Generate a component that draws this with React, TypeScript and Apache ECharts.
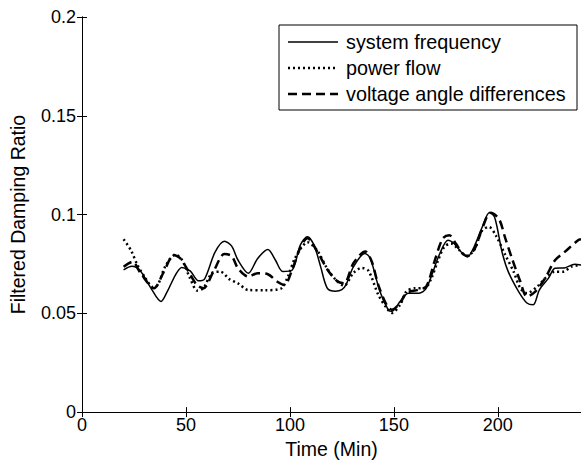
import React, { useEffect, useRef } from "react";
import * as echarts from "echarts";

const freqTime = [20, 24, 28, 33, 38, 41, 45, 48, 52, 56, 59, 64, 68.5, 72, 75, 80, 84.5, 89.4, 93, 96.5, 101, 105, 108.4, 111.6, 114.8, 118, 122, 125, 127, 130.6, 136, 138.6, 143.3, 147.3, 149, 153, 157, 162, 165.6, 172, 176, 179, 183, 185.4, 188.6, 192.5, 196, 198.5, 202, 205, 210, 214, 217, 220, 224.3, 227.5, 232, 237, 240];
const freqValues = [0.072, 0.0738, 0.0715, 0.063, 0.056, 0.061, 0.0695, 0.0732, 0.0715, 0.0665, 0.0675, 0.081, 0.0865, 0.084, 0.077, 0.0703, 0.0778, 0.0823, 0.077, 0.0712, 0.0718, 0.0845, 0.0888, 0.0845, 0.0735, 0.0627, 0.0612, 0.062, 0.0645, 0.0736, 0.0803, 0.078, 0.061, 0.0518, 0.051, 0.056, 0.0602, 0.0602, 0.0627, 0.08, 0.087, 0.0853, 0.0803, 0.0786, 0.0837, 0.0937, 0.101, 0.0985, 0.0811, 0.0711, 0.061, 0.0552, 0.0543, 0.0619, 0.0677, 0.0728, 0.073, 0.0748, 0.0745];

const flowTime = [20, 23.5, 26.7, 30.6, 34.2, 36.5, 40, 45, 48, 52, 55.5, 58.4, 62.4, 66.5, 71, 75, 80, 88, 95.7, 99, 102, 105.2, 108.4, 113, 118, 122.5, 126, 130.6, 134.6, 137.8, 142.5, 146.5, 149, 153, 156, 160, 164.8, 168, 171, 174.3, 177.5, 181.4, 185, 188.6, 192.5, 195.7, 199, 203.6, 207.6, 210.8, 214, 219, 223.6, 227.5, 231.4, 235.4, 240];
const flowValues = [0.0875, 0.082, 0.0744, 0.0677, 0.0632, 0.0645, 0.0736, 0.0797, 0.0772, 0.0677, 0.0615, 0.0627, 0.0703, 0.0711, 0.0672, 0.0652, 0.0618, 0.0617, 0.0625, 0.0686, 0.0769, 0.0828, 0.086, 0.082, 0.0725, 0.0665, 0.064, 0.0705, 0.073, 0.0715, 0.0594, 0.0527, 0.0502, 0.0543, 0.061, 0.0627, 0.0627, 0.0677, 0.0761, 0.0837, 0.0853, 0.082, 0.079, 0.082, 0.092, 0.0937, 0.0895, 0.0795, 0.0711, 0.0627, 0.0602, 0.0636, 0.0686, 0.0711, 0.0711, 0.0736, 0.0745];

const angleTime = [20, 24.3, 28.2, 34.6, 39.4, 44.1, 47.3, 51.3, 55.2, 58.4, 63.2, 68.5, 72, 75, 80, 84.6, 89.4, 94, 97.3, 101.3, 105.2, 108.4, 113.2, 118, 122.5, 126, 130.6, 136.2, 139.4, 142.5, 146.5, 149, 153, 156, 161.6, 165.6, 169.5, 173.5, 176.7, 179.8, 183, 185.4, 189, 192.5, 196.5, 200.5, 203.6, 206.8, 210.8, 214, 218, 222.7, 227.5, 232.2, 238.6, 240];
const angleValues = [0.0736, 0.0761, 0.0703, 0.0627, 0.0711, 0.0795, 0.0778, 0.0711, 0.0644, 0.0627, 0.0711, 0.08, 0.079, 0.0728, 0.0686, 0.0703, 0.0698, 0.066, 0.0644, 0.0728, 0.0837, 0.088, 0.0811, 0.0722, 0.0665, 0.0652, 0.0755, 0.0813, 0.0761, 0.0644, 0.0543, 0.0518, 0.0552, 0.0602, 0.0619, 0.0636, 0.0761, 0.0879, 0.0895, 0.0853, 0.0803, 0.079, 0.083, 0.093, 0.1009, 0.0979, 0.0879, 0.0778, 0.0661, 0.0585, 0.061, 0.0677, 0.0769, 0.0811, 0.087, 0.0875];

const seriesNames = ["system frequency", "power flow", "voltage angle differences"];
const xTickInterval = 50;
const yTickInterval = 0.05;

const FONT = "Liberation Sans, Arial, sans-serif";
const TICK_FS = 18;
const FS = 19.5;
const LEGEND_FS = 19.8;

function pairs(t: number[], v: number[]) {
  return t.map((x, i) => [x, v[i]]);
}

export default function App() {
  const ref = useRef<HTMLDivElement>(null);
  useEffect(() => {
    if (!ref.current) return;
    const chart = echarts.init(ref.current, undefined, { renderer: "svg" });
    const axisCommon = {
      axisLine: { show: true, lineStyle: { color: "#000", width: 1 } },
      splitLine: { show: false },
    };
    const legendX0 = 279;
    const legendY0 = 25;
    const rows = [42, 68, 94];
    const dashes: any[] = [null, [2, 3], [9, 5]];
    const widths = [1.5, 2.5, 2.5];
    chart.setOption({
      animation: false,
      backgroundColor: "#fff",
      grid: { left: 79, right: -2, top: 17, bottom: 49 },
      xAxis: [
        {
          type: "value",
          min: 0,
          max: 240,
          interval: xTickInterval,
          position: "bottom",
          ...axisCommon,
          axisTick: { show: true, inside: true, length: 5, lineStyle: { color: "#000" } },
          axisLabel: { color: "#000", fontFamily: FONT, fontSize: TICK_FS, margin: 4, showMaxLabel: false },
          name: "Time (Min)",
          nameLocation: "middle",
          nameGap: 21,
          nameTextStyle: { color: "#000", fontFamily: FONT, fontSize: FS },
        },
        {
          type: "value",
          min: 0,
          max: 240,
          interval: xTickInterval,
          position: "top",
          ...axisCommon,
          axisTick: { show: true, inside: true, length: 5, lineStyle: { color: "#000" } },
          axisLabel: { show: false },
        },
      ],
      yAxis: [
        {
          type: "value",
          min: 0,
          max: 0.2,
          interval: yTickInterval,
          position: "left",
          ...axisCommon,
          axisTick: { show: true, inside: true, length: 5, lineStyle: { color: "#000" } },
          axisLabel: { color: "#000", fontFamily: FONT, fontSize: TICK_FS, margin: 6 },
          name: "Filtered Damping Ratio",
          nameLocation: "middle",
          nameGap: 54,
          nameTextStyle: { color: "#000", fontFamily: FONT, fontSize: FS },
        },
        {
          type: "value",
          min: 0,
          max: 0.2,
          interval: yTickInterval,
          position: "right",
          ...axisCommon,
          axisTick: { show: true, inside: true, length: 5, lineStyle: { color: "#000" } },
          axisLabel: { show: false },
        },
      ],
      series: [
        {
          name: seriesNames[0],
          type: "line",
          data: pairs(freqTime, freqValues),
          showSymbol: false,
          smooth: 0.3,
          lineStyle: { color: "#000", width: widths[0], type: "solid" },
        },
        {
          name: seriesNames[1],
          type: "line",
          data: pairs(flowTime, flowValues),
          showSymbol: false,
          smooth: 0.3,
          lineStyle: { color: "#000", width: widths[1], type: dashes[1] },
        },
        {
          name: seriesNames[2],
          type: "line",
          data: pairs(angleTime, angleValues),
          showSymbol: false,
          smooth: 0.3,
          lineStyle: { color: "#000", width: widths[2], type: dashes[2] },
        },
      ],
      graphic: [
        {
          type: "rect",
          shape: { x: legendX0, y: legendY0, width: 298, height: 85 },
          style: { fill: "#fff", stroke: "#000", lineWidth: 1 },
          z: 100,
        },
        ...seriesNames.flatMap((name, i) => [
          {
            type: "line",
            shape: { x1: 288, y1: rows[i], x2: 338, y2: rows[i] },
            style: { stroke: "#000", lineWidth: widths[i], lineDash: dashes[i] || undefined },
            z: 101,
          },
          {
            type: "text",
            x: 346,
            y: rows[i],
            style: {
              text: name,
              fill: "#000",
              font: `${LEGEND_FS}px ${FONT}`,
              textVerticalAlign: "middle",
              verticalAlign: "middle",
            },
            z: 101,
          },
        ]),
      ],
    });
    return () => chart.dispose();
  }, []);
  return (
    <div
      ref={ref}
      style={{ position: "absolute", left: 0, top: 0, width: 581, height: 464 }}
    />
  );
}
